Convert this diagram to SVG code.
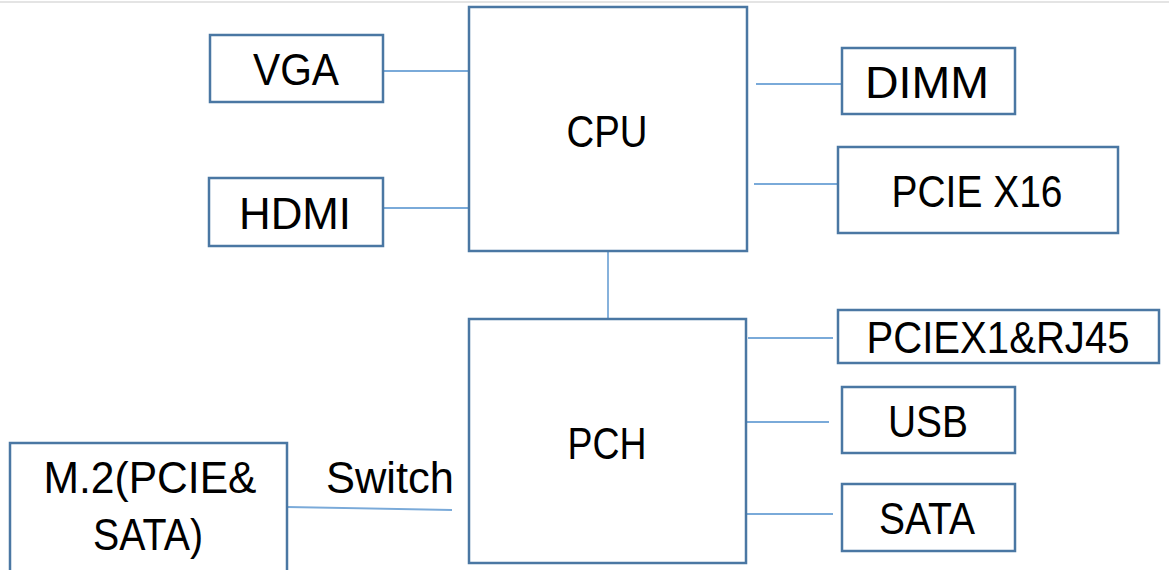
<svg xmlns="http://www.w3.org/2000/svg" width="1169" height="570" viewBox="0 0 1169 570">
<style>
.box{fill:#fff;stroke:#4a77a3;stroke-width:2.5}
.con{stroke:#7aaad9;stroke-width:1.8;fill:none}
.t{font-family:"Liberation Sans",Arial,sans-serif;font-size:44px;fill:#000;text-anchor:middle}
</style>
<rect width="1169" height="570" fill="#fff"/>
<line x1="0" y1="2" x2="1169" y2="2" stroke="#e4e4e4" stroke-width="2"/>
<g id="connectors">
<line class="con" x1="383" y1="71" x2="469" y2="71"/>
<line class="con" x1="383" y1="208" x2="469" y2="208"/>
<line class="con" x1="756" y1="84" x2="842" y2="84"/>
<line class="con" x1="754" y1="184" x2="838" y2="184"/>
<line class="con" x1="608" y1="251" x2="608" y2="324"/>
<line class="con" x1="748" y1="338" x2="833" y2="338"/>
<line class="con" x1="744" y1="422" x2="829" y2="422"/>
<line class="con" x1="746" y1="514" x2="833" y2="514"/>
<line class="con" x1="287" y1="507" x2="452" y2="510"/>
<text class="t" x="390" y="493" textLength="128" lengthAdjust="spacingAndGlyphs">Switch</text>
</g>
<g id="cpu"><rect class="box" x="469" y="7" width="278" height="244"/><text class="t" x="607" y="147" textLength="81" lengthAdjust="spacingAndGlyphs">CPU</text></g>
<g id="pch"><rect class="box" x="469" y="319" width="277" height="244"/><text class="t" x="607" y="459" textLength="79" lengthAdjust="spacingAndGlyphs">PCH</text></g>
<g id="vga"><rect class="box" x="210" y="35" width="173" height="67"/><text class="t" x="296" y="85" textLength="86" lengthAdjust="spacingAndGlyphs">VGA</text></g>
<g id="hdmi"><rect class="box" x="209" y="178" width="174" height="68"/><text class="t" x="295" y="229" textLength="112" lengthAdjust="spacingAndGlyphs">HDMI</text></g>
<g id="dimm"><rect class="box" x="842" y="48" width="173" height="66"/><text class="t" x="927" y="98" textLength="124" lengthAdjust="spacingAndGlyphs">DIMM</text></g>
<g id="pciex16"><rect class="box" x="838" y="147" width="280" height="86"/><text class="t" x="977" y="207" textLength="171" lengthAdjust="spacingAndGlyphs">PCIE X16</text></g>
<g id="pciex1"><rect class="box" x="838" y="310" width="321" height="53"/><text class="t" x="998" y="353" textLength="263" lengthAdjust="spacingAndGlyphs">PCIEX1&amp;RJ45</text></g>
<g id="usb"><rect class="box" x="842" y="387" width="173" height="66"/><text class="t" x="928" y="437" textLength="80" lengthAdjust="spacingAndGlyphs">USB</text></g>
<g id="sata"><rect class="box" x="842" y="484" width="173" height="67"/><text class="t" x="927" y="534" textLength="96" lengthAdjust="spacingAndGlyphs">SATA</text></g>
<g id="m2"><rect class="box" x="10" y="443" width="277" height="140"/><text class="t" x="150" y="493" textLength="213" lengthAdjust="spacingAndGlyphs">M.2(PCIE&amp;</text><text class="t" x="148" y="550" textLength="110" lengthAdjust="spacingAndGlyphs">SATA)</text></g>
</svg>
